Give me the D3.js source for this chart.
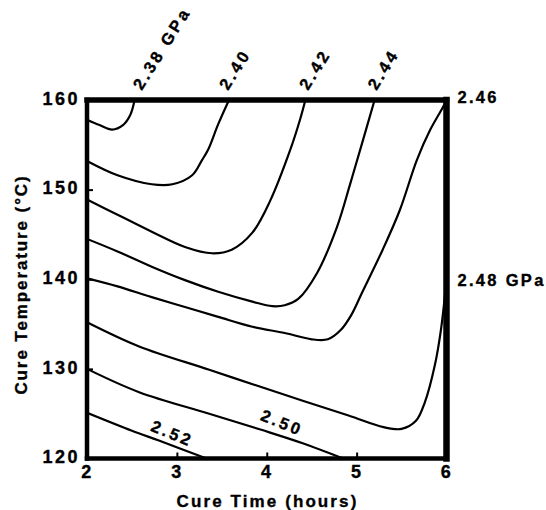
<!DOCTYPE html>
<html>
<head>
<meta charset="utf-8">
<script src="https://cdn.jsdelivr.net/npm/d3@7"></script>
<style>
  body { margin: 0; background: #fff; }
  text { font-family: "Liberation Sans", Arial, sans-serif; font-weight: bold; fill: #000; stroke: #000; stroke-width: 0.35px; }
</style>
</head>
<body>
<svg id="chart" width="546" height="510"></svg>
<script>
// modulus contour levels (GPa), each traced as [cure time (h), cure temp (C)]
const levels = ["2.38", "2.40", "2.42", "2.44", "2.46", "2.48", "2.50", "2.52"];

const c238 = [[2.0, 157.8], [2.14, 157.2], [2.28, 156.7], [2.40, 157.2], [2.48, 158.3], [2.53, 160]];
const c240 = [[2.0, 153.2], [2.34, 151.6], [2.72, 150.6], [2.95, 150.6], [3.17, 151.6], [3.28, 153.3],
              [3.35, 154.5], [3.46, 157.3], [3.58, 160]];
const c242 = [[2.0, 148.9], [2.34, 147.2], [2.72, 145.3], [3.09, 143.6], [3.39, 142.9], [3.61, 143.3],
              [3.84, 145.2], [4.04, 148.8], [4.26, 154.4], [4.37, 157.8], [4.43, 160]];
const c244 = [[2.0, 144.5], [2.34, 143.1], [2.72, 141.4], [3.09, 139.9], [3.46, 138.6], [3.84, 137.5],
              [4.06, 137.0], [4.2, 137.1], [4.35, 137.8], [4.56, 140.7], [4.78, 145.8], [4.93, 150.7],
              [5.07, 155.5], [5.20, 160]];
const c246 = [[2.0, 140.1], [2.34, 139.2], [2.72, 138.0], [3.09, 136.9], [3.46, 135.8], [3.84, 134.7],
              [4.2, 134.0], [4.5, 133.3], [4.68, 133.3], [4.82, 134.3], [4.94, 136.0], [5.06, 138.5],
              [5.29, 143.3], [5.48, 147.7], [5.67, 153.3], [5.82, 156.7], [5.96, 159.2], [6.0, 160]];
const c248 = [[2.0, 135.2], [2.58, 132.5], [3.36, 129.9], [4.14, 127.3], [4.91, 124.8], [5.30, 123.5],
              [5.50, 123.3], [5.66, 124.2], [5.76, 126.3], [5.87, 130.4], [5.94, 134.5], [6.0, 140.0]];
const c250 = [[2.0, 130.0], [2.58, 127.4], [3.36, 125.0], [3.94, 123.2], [4.4, 121.7], [4.85, 120]];
const c252 = [[2.0, 125.1], [2.5, 123.1], [2.8, 122.0], [3.33, 120]];

const contours = [c238, c240, c242, c244, c246, c248, c250, c252];

const xTicks = [2, 3, 4, 5, 6];
const yTicks = [120, 130, 140, 150, 160];

// labels above the top edge
const topLabels = ["2.38 GPa", "2.40", "2.42", "2.44"];
const topLabelX = [2.61, 3.57, 4.46, 5.22];
// labels right of the frame
const sideLabels = ["2.46", "2.48 GPa"];
const sideLabelY = [159.65, 139.3];
// labels inside the plot
const inLabels = ["2.52", "2.50"];
const inLabelX = [2.95, 4.17];
const inLabelY = [122.8, 124.0];

const svg = d3.select("#chart");

const x = d3.scaleLinear().domain([2, 6]).range([87, 446.5]);
const y = d3.scaleLinear().domain([120, 160]).range([458.5, 100]);

svg.append("clipPath").attr("id", "plot")
    .append("rect")
    .attr("x", x(2)).attr("y", y(160))
    .attr("width", x(6) - x(2)).attr("height", y(120) - y(160));

const line = d3.line()
    .x(d => x(d[0]))
    .y(d => y(d[1]))
    .curve(d3.curveCatmullRom.alpha(0.5));

svg.append("g")
    .attr("clip-path", "url(#plot)")
    .selectAll("path")
    .data(contours)
    .enter().append("path")
    .attr("d", line)
    .attr("fill", "none")
    .attr("stroke", "#000")
    .attr("stroke-width", 2.2);

// axes with inward ticks
const gx = svg.append("g")
    .attr("transform", "translate(0," + y(120) + ")")
    .call(d3.axisBottom(x).tickValues(xTicks).tickSize(-6).tickPadding(7).tickFormat(d3.format("d")));

const gy = svg.append("g")
    .attr("transform", "translate(" + x(2) + ",0)")
    .call(d3.axisLeft(y).tickValues(yTicks).tickSize(-6).tickPadding(7).tickFormat(d3.format("d")));

[gx, gy].forEach(g => {
    g.select(".domain").remove();
    g.selectAll(".tick line").attr("stroke", "#000").attr("stroke-width", 2);
    g.selectAll(".tick text")
        .attr("fill", "#000")
        .style("font-size", "18px")
        .style("letter-spacing", "2.5px")
        .style("font-family", "'Liberation Sans', Arial, sans-serif")
        .style("font-weight", "bold");
});
gy.selectAll(".tick text").attr("dy", "0.24em");

// frame
const frame = [
    { x1: 2, y1: 160, x2: 6, y2: 160, w: 5.5 },
    { x1: 2, y1: 120, x2: 6, y2: 120, w: 4.5 },
    { x1: 2, y1: 120, x2: 2, y2: 160, w: 4.5 },
    { x1: 6, y1: 120, x2: 6, y2: 160, w: 6.5 }
];
svg.append("g").selectAll("line")
    .data(frame)
    .enter().append("line")
    .attr("x1", d => x(d.x1)).attr("y1", d => y(d.y1))
    .attr("x2", d => x(d.x2)).attr("y2", d => y(d.y2))
    .attr("stroke", "#000")
    .attr("stroke-width", d => d.w)
    .attr("stroke-linecap", "square");

// contour labels
svg.append("g").selectAll("text")
    .data(topLabels)
    .enter().append("text")
    .attr("transform", (d, i) => "translate(" + x(topLabelX[i]) + "," + (y(160) - 9) + ") rotate(-58)")
    .style("font-size", "16.5px")
    .style("letter-spacing", "3px")
    .text(d => d);

svg.append("g").selectAll("text")
    .data(sideLabels)
    .enter().append("text")
    .attr("x", x(6) + 11)
    .attr("y", (d, i) => y(sideLabelY[i]))
    .style("font-size", "16.5px")
    .style("letter-spacing", "2.3px")
    .text(d => d);

svg.append("g").selectAll("text")
    .data(inLabels)
    .enter().append("text")
    .attr("transform", (d, i) => "translate(" + x(inLabelX[i]) + "," + y(inLabelY[i]) + ") rotate(22)")
    .attr("text-anchor", "middle")
    .attr("dy", "0.35em")
    .style("font-size", "16.5px")
    .style("letter-spacing", "3px")
    .text(d => d);

// axis titles
svg.append("text")
    .attr("x", 267.5)
    .attr("y", 507)
    .attr("text-anchor", "middle")
    .style("font-size", "17px")
    .style("letter-spacing", "2.1px")
    .text("Cure Time (hours)");

svg.append("text")
    .attr("transform", "translate(26.5,284.5) rotate(-90)")
    .attr("text-anchor", "middle")
    .style("font-size", "17px")
    .style("letter-spacing", "1.9px")
    .text("Cure Temperature (°C)");
</script>
</body>
</html>
